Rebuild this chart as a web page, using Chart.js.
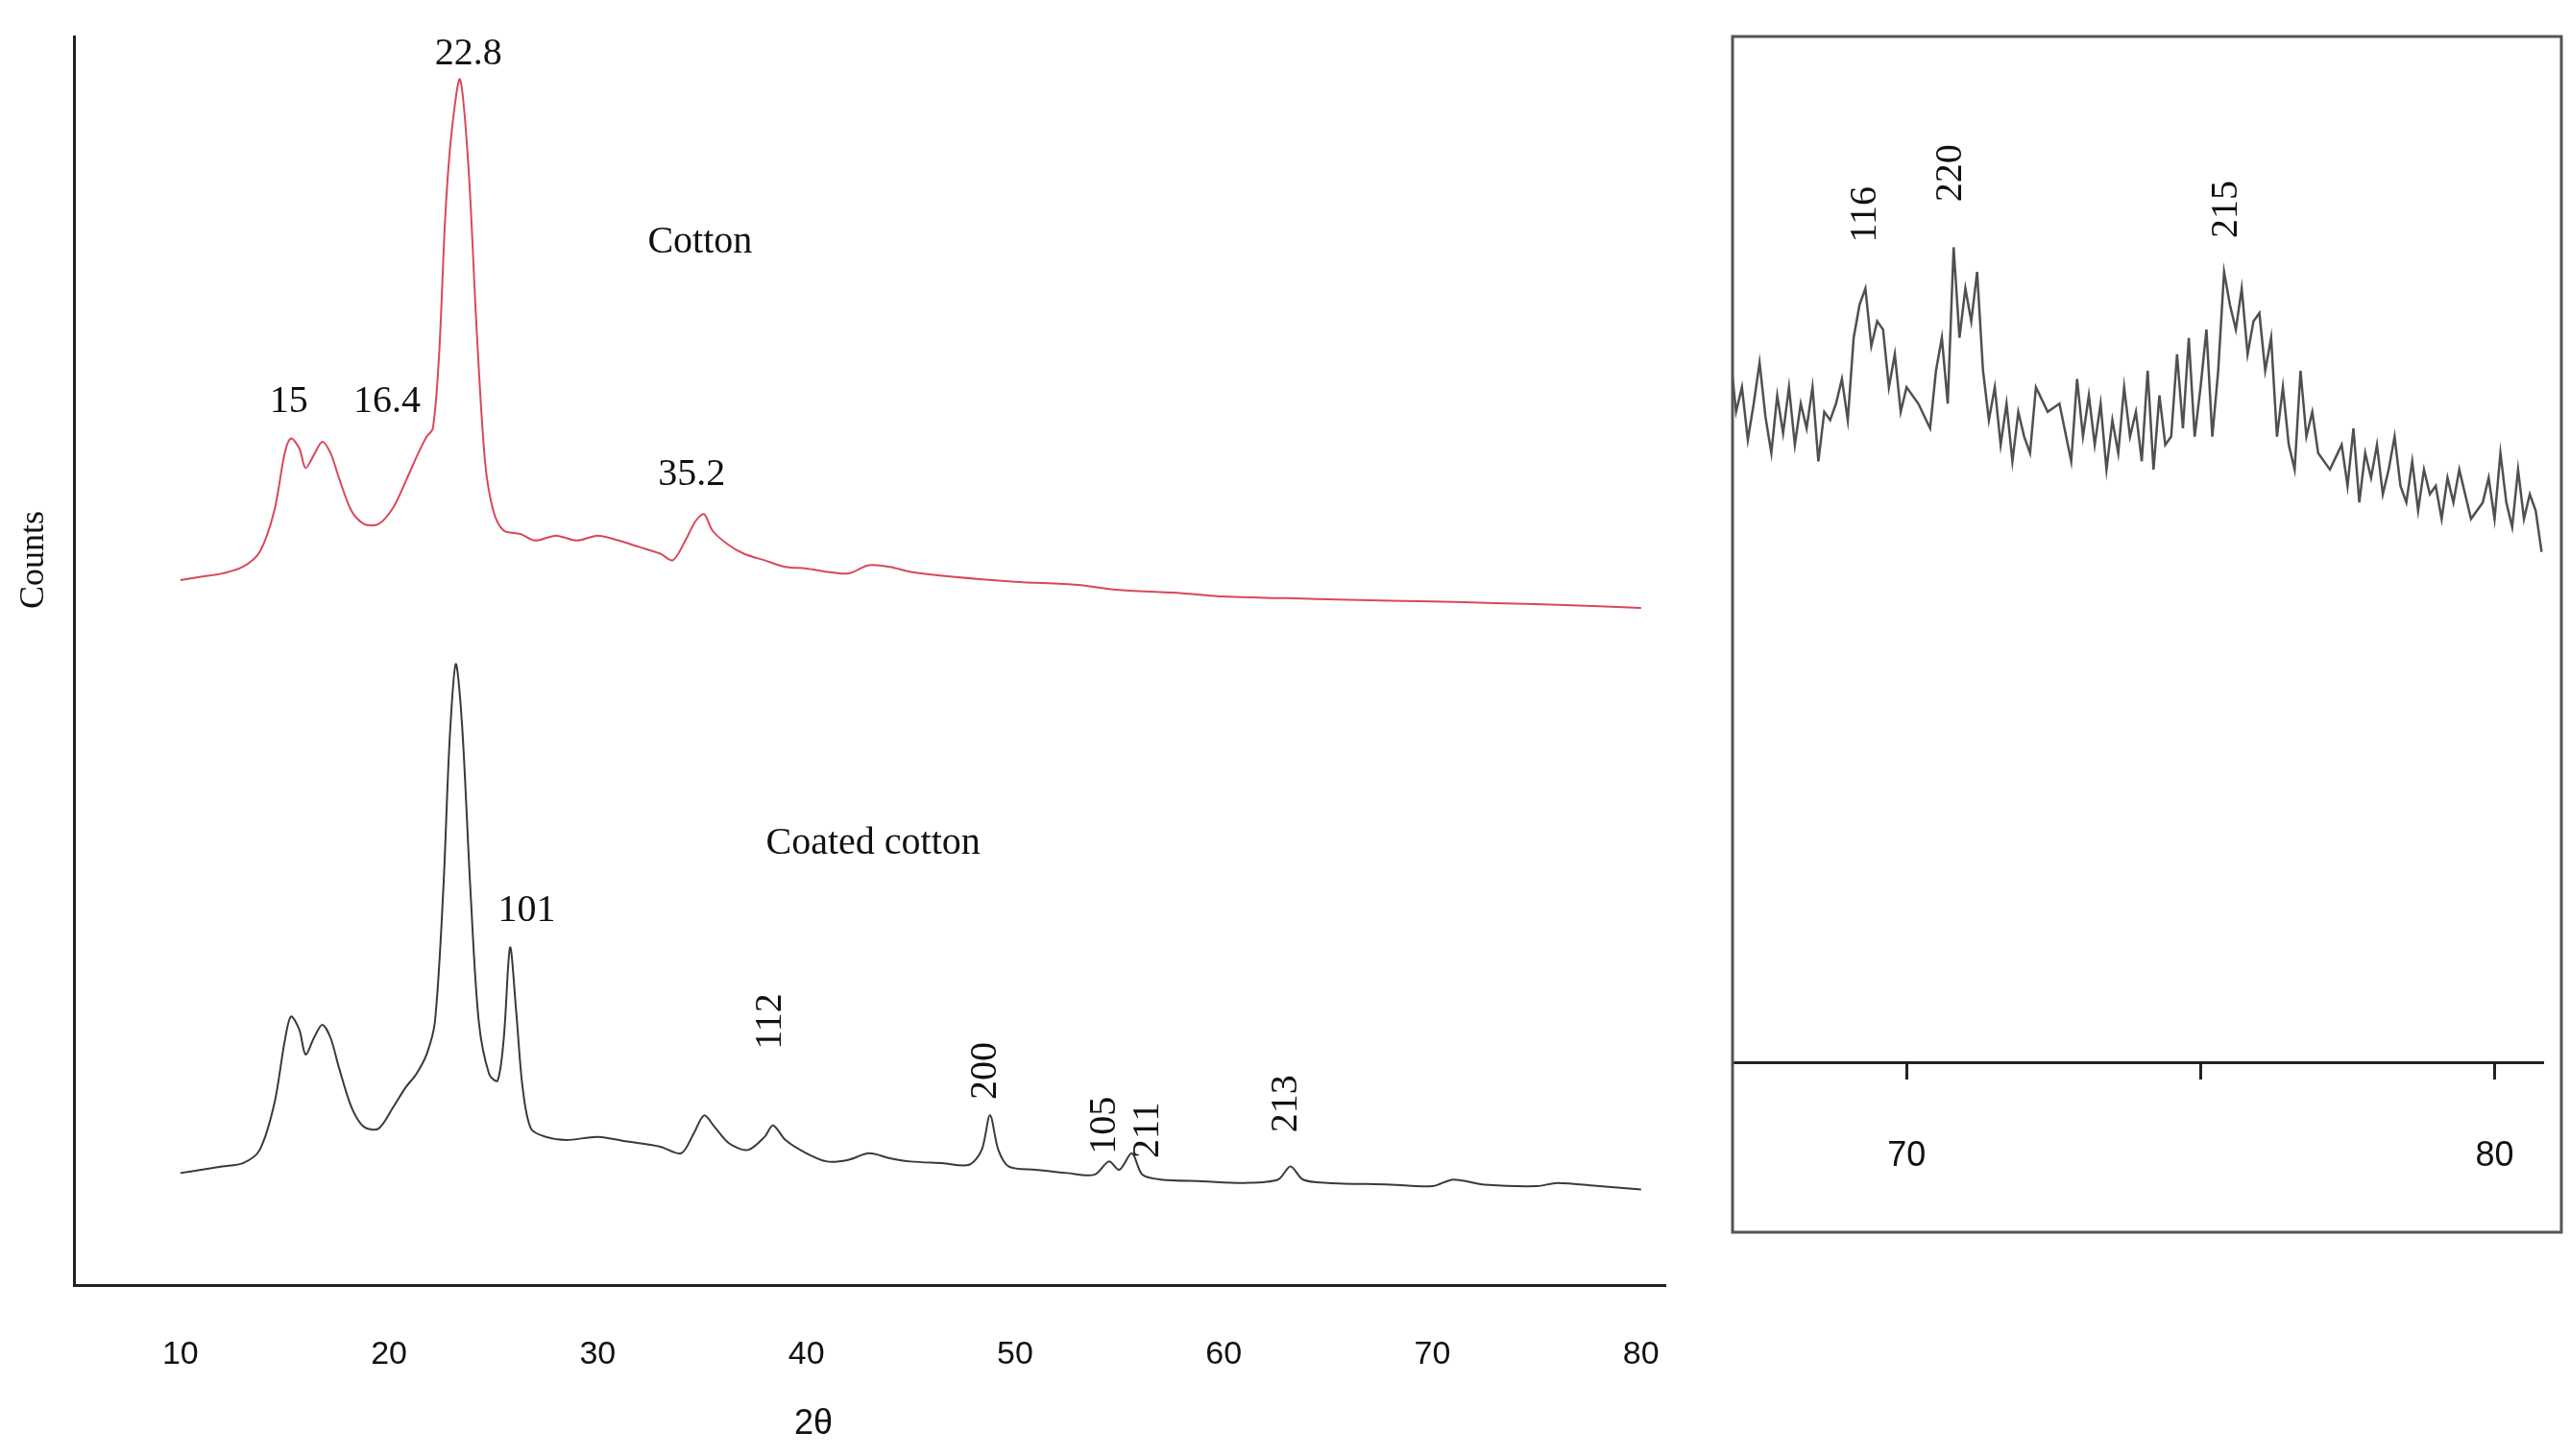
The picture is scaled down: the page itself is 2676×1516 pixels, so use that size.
<!DOCTYPE html>
<html>
<head>
<meta charset="utf-8">
<script src="https://cdn.jsdelivr.net/npm/chart.js@4"></script>
<style>
  body { margin: 0; background: #fff; width: 2676px; height: 1516px; overflow: hidden; }
  .box { position: absolute; top: 0; height: 1516px; }
</style>
</head>
<body>
<div class="box" style="left:0;width:1780px"><canvas id="mainChart"></canvas></div>
<div class="box" style="left:1780px;width:896px"><canvas id="insetChart"></canvas></div>
<script>
// Cotton (red) trace, [2θ, counts]
const cottonX = [10, 11, 12, 13, 13.8, 14.5, 15, 15.3, 15.7, 16, 16.4, 16.8, 17.2, 17.6, 18.2, 18.8, 19.5, 20.2, 20.8, 21.4, 21.8, 22.1, 22.4, 22.7, 23, 23.4, 23.8, 24.2, 24.6, 25, 25.5, 26.3, 27, 28, 29, 30, 31, 32, 33, 33.6, 34.2, 34.7, 35.1, 35.5, 36.2, 37, 38, 39, 40, 41, 42, 43, 44, 45, 47, 50, 53, 55, 58, 60, 63, 66, 70, 73, 76, 80];
const cottonY = [428, 430, 432, 436, 445, 470, 505, 514, 508, 496, 504, 512, 505, 490, 470, 462, 462, 472, 488, 505, 515, 520, 565, 650, 700, 732, 680, 580, 500, 470, 458, 456, 452, 455, 452, 455, 452, 448, 444, 440, 452, 464, 468, 458, 450, 444, 440, 436, 435, 433, 432, 437, 436, 433, 430, 427, 425, 422, 420, 418, 417, 416, 415, 414, 413, 411];

// Coated cotton (black) trace
const coatedX = [10, 11, 12, 13, 13.8, 14.5, 15, 15.3, 15.7, 16, 16.4, 16.8, 17.2, 17.6, 18.2, 18.8, 19.5, 20.2, 20.8, 21.3, 21.8, 22.2, 22.6, 22.9, 23.2, 23.5, 23.9, 24.3, 24.8, 25.2, 25.5, 25.8, 26.1, 26.4, 26.8, 27.5, 28.5, 30, 31.5, 33, 34, 34.6, 35.1, 35.6, 36.3, 37.2, 38, 38.4, 39, 40, 41, 42, 43, 44, 45, 46.5, 47.8, 48.4, 48.8, 49.2, 49.7, 51, 52.5, 53.8, 54.5, 55, 55.6, 56.1, 57, 59, 61, 62.6, 63.2, 63.8, 65, 68, 70, 71, 72.5, 75, 76, 78, 80];
const coatedY = [68, 70, 72, 74, 82, 110, 148, 163, 155, 140, 150, 158, 150, 132, 108, 96, 95, 108, 120, 128, 140, 160, 240, 330, 377, 340, 240, 160, 128, 124, 150, 205, 165, 120, 95, 90, 88, 90, 87, 84, 80, 92, 103, 96, 86, 82, 90, 97, 88, 80, 75, 76, 80, 77, 75, 74, 73, 82, 103, 82, 72, 70, 68, 67, 75, 70, 80, 67, 64, 63, 62, 64, 72, 64, 62, 61, 60, 64, 61, 60, 62, 60, 58];

// Inset trace (coated cotton, 67-81°)
const insetX = [67.0, 67.1, 67.2, 67.3, 67.4, 67.5, 67.6, 67.7, 67.8, 67.9, 68.0, 68.1, 68.2, 68.3, 68.4, 68.5, 68.6, 68.7, 68.8, 68.9, 69.0, 69.1, 69.2, 69.3, 69.4, 69.5, 69.6, 69.7, 69.8, 69.9, 70.0, 70.2, 70.4, 70.5, 70.6, 70.7, 70.8, 70.9, 71.0, 71.1, 71.2, 71.3, 71.4, 71.5, 71.6, 71.7, 71.8, 71.9, 72.0, 72.1, 72.2, 72.4, 72.6, 72.8, 72.9, 73.0, 73.1, 73.2, 73.3, 73.4, 73.5, 73.6, 73.7, 73.8, 73.9, 74.0, 74.1, 74.2, 74.3, 74.4, 74.5, 74.6, 74.7, 74.8, 74.9, 75.0, 75.1, 75.2, 75.3, 75.4, 75.5, 75.6, 75.7, 75.8, 75.9, 76.0, 76.1, 76.2, 76.3, 76.4, 76.5, 76.6, 76.7, 76.8, 76.9, 77.0, 77.2, 77.4, 77.5, 77.6, 77.7, 77.8, 77.9, 78.0, 78.1, 78.2, 78.3, 78.4, 78.5, 78.6, 78.7, 78.8, 78.9, 79.0, 79.1, 79.2, 79.3, 79.4, 79.6, 79.8, 79.9, 80.0, 80.1, 80.2, 80.3, 80.4, 80.5, 80.6, 80.7, 80.8];
const insetY = [430, 395, 410, 378, 400, 425, 392, 370, 405, 382, 410, 375, 400, 385, 410, 365, 395, 390, 400, 415, 390, 440, 460, 470, 435, 450, 445, 410, 430, 395, 410, 400, 385, 420, 440, 400, 495, 440, 470, 450, 480, 420, 390, 410, 375, 400, 365, 395, 380, 370, 410, 395, 400, 365, 415, 380, 405, 375, 400, 360, 390, 370, 410, 380, 395, 365, 420, 360, 405, 375, 380, 430, 385, 440, 380, 410, 445, 380, 420, 480, 460, 445, 470, 430, 450, 455, 420, 440, 380, 410, 375, 360, 420, 380, 395, 370, 360, 375, 350, 385, 340, 370, 355, 375, 345, 360, 380, 350, 340, 365, 335, 360, 345, 350, 330, 355, 340, 360, 330, 340, 355, 330, 370, 340, 325, 360, 330, 345, 335, 310, 320];

const mainTicks = [10, 20, 30, 40, 50, 60, 70, 80];
const insetTicks = [70, 75, 80];

// text labels: [text, x, y, rotated]
const mainLabels = [
  ["22.8", 23.8, 747, false], ["Cotton", 34.9, 633, false], ["15", 15.2, 536, false],
  ["16.4", 19.9, 536, false], ["35.2", 34.5, 492, false], ["Coated cotton", 43.2, 268, false],
  ["101", 26.6, 227, false], ["112", 38.3, 160, true], ["200", 48.6, 130, true],
  ["105", 54.3, 97, true], ["211", 56.4, 94, true], ["213", 63.0, 110, true],
];
const insetLabels = [["116", 69.3, 515, true], ["220", 70.75, 540, true], ["215", 75.45, 518, true]];

const pts = (xs, ys) => xs.map((x, i) => ({ x, y: ys[i] }));
const serif = '"Liberation Serif", "DejaVu Serif", serif';
const sans = '"Liberation Sans", Arial, sans-serif';

function labelPlugin(labels, extra) {
  return {
    id: "labels",
    afterDraw(chart) {
      const ctx = chart.ctx, sx = chart.scales.x, sy = chart.scales.y;
      ctx.save();
      ctx.fillStyle = "#111";
      ctx.font = "40px " + serif;
      ctx.textAlign = "center";
      ctx.textBaseline = "middle";
      labels.forEach(([t, x, y, rot]) => {
        ctx.save();
        ctx.translate(sx.getPixelForValue(x), sy.getPixelForValue(y));
        if (rot) ctx.rotate(-Math.PI / 2);
        ctx.fillText(t, 0, 0);
        ctx.restore();
      });
      if (extra) extra(chart, ctx);
      ctx.restore();
    },
  };
}

new Chart(document.getElementById("mainChart"), {
  type: "line",
  data: {
    datasets: [
      { data: pts(cottonX, cottonY), borderColor: "#d9485a", borderWidth: 2, pointRadius: 0, tension: 0.3 },
      { data: pts(coatedX, coatedY), borderColor: "#3a3a3a", borderWidth: 2, pointRadius: 0, tension: 0.3 },
    ],
  },
  options: {
    responsive: true, maintainAspectRatio: false, animation: false,
    layout: { padding: { top: 38, right: 22, left: 0, bottom: 0 } },
    plugins: { legend: { display: false }, tooltip: { enabled: false } },
    scales: {
      x: {
        type: "linear", min: 4.9, max: 81.2,
        afterBuildTicks: (s) => { s.ticks = mainTicks.map((v) => ({ value: v })); },
        afterFit: (s) => { s.height = 1516 - 1338; },
        grid: { display: false, drawTicks: false },
        border: { color: "#222", width: 3 },
        ticks: { color: "#111", font: { size: 34, family: sans }, padding: 52, maxRotation: 0 },
      },
      y: {
        min: 0, max: 758,
        afterFit: (s) => { s.width = 77; },
        grid: { display: false, drawTicks: false },
        border: { color: "#222", width: 3 },
        ticks: { display: false },
      },
    },
  },
  plugins: [labelPlugin(mainLabels, (chart, ctx) => {
    ctx.font = "36px " + serif;
    ctx.save();
    ctx.translate(36, 583);
    ctx.rotate(-Math.PI / 2);
    ctx.fillText("Counts", 0, 0);
    ctx.restore();
    ctx.font = "36px " + sans;
    ctx.fillText("2θ", 847, 1483);
  })],
});

new Chart(document.getElementById("insetChart"), {
  type: "line",
  data: {
    datasets: [
      { data: pts(insetX, insetY), borderColor: "#505050", borderWidth: 2.5, pointRadius: 0, tension: 0 },
    ],
  },
  options: {
    responsive: true, maintainAspectRatio: false, animation: false,
    layout: { padding: { top: 38, right: 9, left: 0, bottom: 0 } },
    plugins: { legend: { display: false }, tooltip: { enabled: false } },
    scales: {
      x: {
        type: "linear", min: 67.04, max: 80.83,
        afterBuildTicks: (s) => { s.ticks = insetTicks.map((v) => ({ value: v })); },
        afterFit: (s) => { s.height = 1516 - 1106; },
        grid: { drawOnChartArea: false, tickLength: 18, tickColor: "#222", tickWidth: 3 },
        border: { color: "#222", width: 3 },
        ticks: { color: "#111", font: { size: 36, family: sans }, padding: 58,
          callback: (v) => (v === 75 ? "" : v) },
      },
      y: {
        min: 0, max: 623,
        afterFit: (s) => { s.width = 24; },
        grid: { display: false, drawTicks: false },
        border: { display: false },
        ticks: { display: false },
      },
    },
  },
  plugins: [labelPlugin(insetLabels, (chart, ctx) => {
    ctx.strokeStyle = "#555";
    ctx.lineWidth = 3;
    ctx.strokeRect(24, 38, 863, 1245);
  })],
});
</script>
</body>
</html>
